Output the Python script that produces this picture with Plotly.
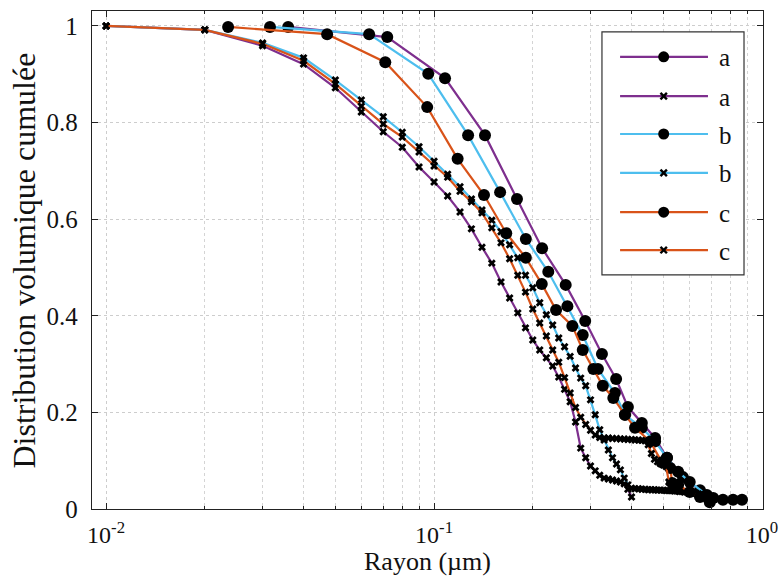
import plotly.graph_objects as go

# ---------------- data ----------------
# Series "a" (circles)
a_circ_r = [0.0359, 0.0720, 0.108, 0.143, 0.179, 0.2135, 0.252, 0.289, 0.325, 0.359,
            0.390, 0.430, 0.472, 0.513, 0.574, 0.647, 0.710, 0.760, 0.816, 0.869]
a_circ_v = [0.998, 0.977, 0.892, 0.774, 0.642, 0.540, 0.464, 0.389, 0.321, 0.269,
            0.211, 0.178, 0.147, 0.106, 0.066, 0.039, 0.023, 0.019, 0.019, 0.019]

# Series "b" (circles)
b_circ_r = [0.0316, 0.0634, 0.096, 0.127, 0.159, 0.1905, 0.223, 0.255, 0.284, 0.316,
            0.356, 0.382, 0.430, 0.472, 0.513, 0.555, 0.602, 0.679, 0.693]
b_circ_v = [0.998, 0.983, 0.901, 0.774, 0.656, 0.559, 0.491, 0.420, 0.360, 0.290,
            0.240, 0.195, 0.168, 0.140, 0.106, 0.077, 0.056, 0.029, 0.014]

# Series "c" (circles)
c_circ_r = [0.02355, 0.0472, 0.0710, 0.0953, 0.118, 0.142, 0.166, 0.1905, 0.213, 0.2355,
            0.264, 0.284, 0.306, 0.327, 0.352, 0.382, 0.410, 0.456, 0.495, 0.525,
            0.532, 0.555, 0.602, 0.647]
c_circ_v = [0.998, 0.983, 0.925, 0.832, 0.725, 0.650, 0.571, 0.520, 0.466, 0.412,
            0.379, 0.329, 0.290, 0.255, 0.230, 0.195, 0.168, 0.140, 0.097, 0.085,
            0.054, 0.050, 0.035, 0.025]

# Series "a" (crosses)
a_cross_r = [0.01, 0.02, 0.03, 0.04, 0.05, 0.06, 0.07, 0.08, 0.09, 0.10,
             0.11, 0.12, 0.13, 0.14, 0.15, 0.16, 0.17, 0.18, 0.19, 0.20,
             0.21, 0.22, 0.23, 0.24, 0.25, 0.26, 0.27, 0.28, 0.29, 0.30,
             0.31, 0.32, 0.33, 0.34, 0.35, 0.36, 0.37, 0.38, 0.39, 0.40]
a_cross_v = [1.000, 0.992, 0.959, 0.921, 0.872, 0.822, 0.781, 0.749, 0.708, 0.677,
             0.648, 0.615, 0.580, 0.542, 0.509, 0.470, 0.437, 0.406, 0.375, 0.350,
             0.329, 0.313, 0.296, 0.273, 0.248, 0.222, 0.180, 0.126, 0.106, 0.089,
             0.079, 0.070, 0.064, 0.062, 0.060, 0.058, 0.056, 0.052, 0.041, 0.025]

# Series "b" (crosses)
b_cross_r = [0.01, 0.02, 0.03, 0.04, 0.05, 0.06, 0.07, 0.08, 0.09, 0.10,
             0.11, 0.12, 0.13, 0.14, 0.15, 0.16, 0.17, 0.18, 0.19, 0.20,
             0.21, 0.22, 0.23, 0.24, 0.25, 0.26, 0.27, 0.28, 0.29, 0.30,
             0.31, 0.32, 0.33, 0.34, 0.35, 0.36, 0.37, 0.38, 0.39, 0.40,
             0.41, 0.42, 0.43, 0.44, 0.45, 0.46, 0.47, 0.48, 0.49, 0.50,
             0.51, 0.52, 0.53, 0.54, 0.55, 0.56, 0.57, 0.58, 0.59, 0.60,
             0.61, 0.62, 0.63, 0.64, 0.65, 0.66, 0.67, 0.68, 0.69, 0.70]
b_cross_v = [1.000, 0.992, 0.965, 0.934, 0.888, 0.847, 0.812, 0.780, 0.750, 0.720,
             0.693, 0.667, 0.642, 0.619, 0.598, 0.574, 0.547, 0.520, 0.484, 0.458,
             0.427, 0.402, 0.381, 0.354, 0.336, 0.316, 0.292, 0.271, 0.255, 0.226,
             0.195, 0.164, 0.143, 0.122, 0.106, 0.093, 0.081, 0.064, 0.050, 0.043,
             0.042, 0.042, 0.041, 0.041, 0.040, 0.040, 0.040, 0.039, 0.039, 0.039,
             0.038, 0.038, 0.038, 0.037, 0.037, 0.036, 0.036, 0.035, 0.035, 0.034,
             0.034, 0.033, 0.032, 0.031, 0.030, 0.028, 0.026, 0.024, 0.022, 0.020]

# Series "c" (crosses)
c_cross_r = [0.01, 0.02, 0.03, 0.04, 0.05, 0.06, 0.07, 0.08, 0.09, 0.10,
             0.11, 0.12, 0.13, 0.14, 0.15, 0.16, 0.17, 0.18, 0.19, 0.20,
             0.21, 0.22, 0.23, 0.24, 0.25, 0.26, 0.27, 0.28, 0.29, 0.30,
             0.31, 0.32, 0.33, 0.34, 0.35, 0.36, 0.37, 0.38, 0.39, 0.40,
             0.41, 0.42, 0.43, 0.44, 0.45, 0.46, 0.47, 0.48, 0.49, 0.50,
             0.51, 0.52, 0.53, 0.54, 0.55]
c_cross_v = [1.000, 0.992, 0.963, 0.928, 0.880, 0.834, 0.797, 0.770, 0.739, 0.710,
             0.687, 0.658, 0.636, 0.613, 0.582, 0.551, 0.518, 0.484, 0.449, 0.414,
             0.385, 0.358, 0.329, 0.304, 0.272, 0.240, 0.210, 0.190, 0.175, 0.163,
             0.153, 0.148, 0.147, 0.147, 0.146, 0.146, 0.145, 0.145, 0.144, 0.144,
             0.143, 0.143, 0.142, 0.141, 0.133, 0.115, 0.103, 0.098, 0.094, 0.091,
             0.088, 0.056, 0.052, 0.050, 0.048]

x_tick_vals = [0.01, 0.1, 1]
x_tick_text = ["10<sup>-2</sup>", "10<sup>-1</sup>", "10<sup>0</sup>"]
y_tick_vals = [0, 0.2, 0.4, 0.6, 0.8, 1.0]
y_tick_text = ["0", "0.2", "0.4", "0.6", "0.8", "1"]

x_title = "Rayon (µm)"
y_title = "Distribution volumique cumulée"

# ---------------- styles ----------------
PURPLE = "#7E2F8E"
BLUE = "#4DBEEE"
ORANGE = "#D95319"
FONT = "Liberation Serif"
TXT = "#111111"

series = [
    ("a", a_circ_r, a_circ_v, PURPLE, "circle"),
    ("a", a_cross_r, a_cross_v, PURPLE, "x"),
    ("b", b_circ_r, b_circ_v, BLUE, "circle"),
    ("b", b_cross_r, b_cross_v, BLUE, "x"),
    ("c", c_circ_r, c_circ_v, ORANGE, "circle"),
    ("c", c_cross_r, c_cross_v, ORANGE, "x"),
]

fig = go.Figure()
for name, r, v, col, sym in series:
    fig.add_trace(go.Scatter(
        x=r, y=v, name=name, mode="lines+markers", showlegend=False,
        line=dict(color=col, width=2.2),
        marker=dict(symbol=sym, color="black",
                    size=12 if sym == "circle" else 7,
                    line=dict(width=0)),
    ))

# ---------------- legend (framed key, MATLAB style) ----------------
shapes = []
annotations = []
leg_x0, leg_x1, leg_y0, leg_y1 = 0.760, 0.9717, 0.470, 0.958
shapes.append(dict(type="rect", xref="paper", yref="paper",
                   x0=leg_x0, x1=leg_x1, y0=leg_y0, y1=leg_y1,
                   line=dict(color="#333333", width=1.2), fillcolor="white", layer="above"))
row_y = [0.908, 0.829, 0.753, 0.675, 0.596, 0.520]
line_x0, line_x1, mark_x, text_x = 0.787, 0.918, 0.852, 0.931
for (name, _r, _v, col, sym), yy in zip(series, row_y):
    shapes.append(dict(type="line", xref="paper", yref="paper",
                       x0=line_x0, x1=line_x1, y0=yy, y1=yy,
                       line=dict(color=col, width=2.2), layer="above"))
    if sym == "circle":
        shapes.append(dict(type="circle", xref="paper", yref="paper",
                           xsizemode="pixel", ysizemode="pixel",
                           xanchor=mark_x, yanchor=yy,
                           x0=-5.5, x1=5.5, y0=-5.5, y1=5.5,
                           fillcolor="black", line=dict(color="black", width=0),
                           layer="above"))
    else:
        for dy in (1, -1):
            shapes.append(dict(type="line", xref="paper", yref="paper",
                               xsizemode="pixel", ysizemode="pixel",
                               xanchor=mark_x, yanchor=yy,
                               x0=-3.2, x1=3.2, y0=-3.2 * dy, y1=3.2 * dy,
                               line=dict(color="black", width=2.4), layer="above"))
    annotations.append(dict(text=name, xref="paper", yref="paper",
                            x=text_x, y=yy, xanchor="left", yanchor="middle",
                            yshift=-1, showarrow=False,
                            font=dict(family=FONT, size=25, color=TXT)))

# axis titles
annotations.append(dict(text=x_title, xref="paper", yref="paper",
                        x=0.5, y=-0.106, xanchor="center", yanchor="middle",
                        showarrow=False, font=dict(family=FONT, size=26, color=TXT)))
annotations.append(dict(text=y_title, xref="paper", yref="paper",
                        x=-0.102, y=0.498, xanchor="center", yanchor="middle",
                        textangle=-90, showarrow=False,
                        font=dict(family=FONT, size=32, color=TXT)))

fig.update_layout(
    width=782, height=579,
    margin=dict(l=92, r=19, t=11, b=70, autoexpand=False),
    paper_bgcolor="white", plot_bgcolor="white",
    font=dict(family=FONT, size=24, color=TXT),
    showlegend=False,
    shapes=shapes,
    annotations=annotations,
)

fig.update_xaxes(
    type="log", range=[-2.043, 0.003],
    tickvals=x_tick_vals, ticktext=x_tick_text,
    ticks="inside", ticklen=6, tickcolor="#222", tickwidth=1,
    showline=True, linecolor="#222", linewidth=1.3, mirror="allticks",
    showgrid=True, gridcolor="#cdcdcd", griddash="dot", gridwidth=1,
    minor=dict(dtick="D1", ticks="inside", ticklen=3, tickcolor="#222",
               showgrid=True, gridcolor="#d4d4d4", griddash="dot", gridwidth=1),
    tickfont=dict(family=FONT, size=24, color=TXT),
    ticklabelstandoff=4,
    zeroline=False, automargin=False,
)
fig.update_yaxes(
    range=[0, 1.031],
    tickvals=y_tick_vals, ticktext=y_tick_text,
    ticks="inside", ticklen=6, tickcolor="#222", tickwidth=1,
    showline=True, linecolor="#222", linewidth=1.3, mirror="allticks",
    showgrid=True, gridcolor="#cdcdcd", griddash="dot", gridwidth=1,
    tickfont=dict(family=FONT, size=25, color=TXT),
    ticklabelstandoff=8,
    zeroline=False, automargin=False,
)

fig.write_html("out.html",
               config={"displayModeBar": False},
               post_script="document.body.style.margin='0px';document.body.style.padding='0px';")
